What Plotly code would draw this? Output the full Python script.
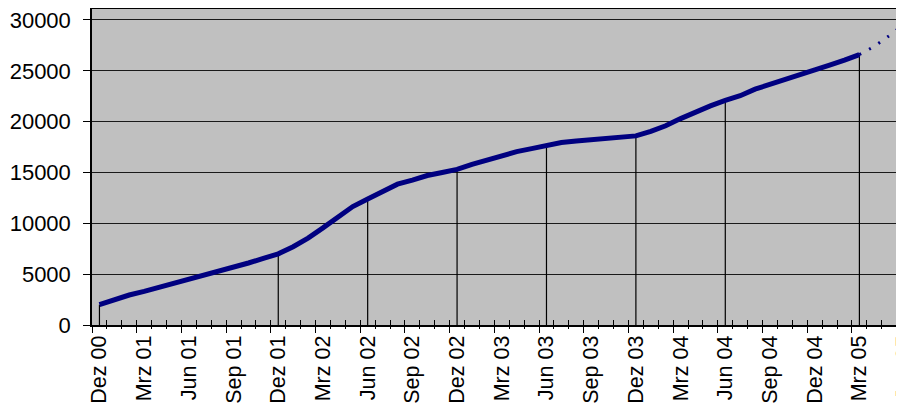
import plotly.graph_objects as go

# ---- data -------------------------------------------------------------
month_names = ["Jan", "Feb", "Mrz", "Apr", "Mai", "Jun", "Jul", "Aug", "Sep", "Okt", "Nov", "Dez"]
months = [f"{month_names[(11 + i) % 12]} {((2000 * 12 + 11 + i) // 12) % 100:02d}" for i in range(55)]

tick_labels = ["Dez 00", "Mrz 01", "Jun 01", "Sep 01", "Dez 01", "Mrz 02", "Jun 02", "Sep 02",
               "Dez 02", "Mrz 03", "Jun 03", "Sep 03", "Dez 03", "Mrz 04", "Jun 04", "Sep 04",
               "Dez 04", "Mrz 05", "Jun 05"]

values = [2000, 2500, 2950, 3300, 3700, 4100, 4500, 4900, 5300, 5600, 6100, 6550, 7000,
          7700, 8550, 9550, 10650, 11650, 12400, 13150, 13850, 14250, 14700, 15000, 15300,
          15800, 16250, 16700, 17050, 17350, 17650, 17950, 18100, 18200, 18300, 18450, 18600,
          19050, 19600, 20300, 20950, 21550, 22100, 22550, 23200, 23650, 24100, 24600, 25050,
          25550, 26050, 26600]

forecast_months = ["Mrz 05", "Apr 05", "Mai 05", "Jun 05"]
forecast_values = [26600, 27400, 28450, 29600]

drop_labels = ["Dez 00", "Dez 01", "Jun 02", "Dez 02", "Jun 03", "Dez 03", "Jun 04", "Mrz 05"]

# ---- figure -----------------------------------------------------------
actual_months = months[:len(values)]
value_of = dict(zip(actual_months, values))

drop_x, drop_y = [], []
for d in drop_labels:
    drop_x += [d, d, None]
    drop_y += [0, value_of[d], None]

FONT = "Liberation Sans, Arial, sans-serif"
NAVY = "#000080"
XR = [-0.5, 54.53]

fig = go.Figure()
fig.add_trace(go.Scatter(x=drop_x, y=drop_y, mode="lines",
                         line=dict(color="black", width=1.2), hoverinfo="skip"))
fig.add_trace(go.Scatter(x=actual_months, y=values, mode="lines",
                         line=dict(color=NAVY, width=5)))
fig.add_trace(go.Scatter(x=forecast_months, y=forecast_values, mode="lines",
                         line=dict(color=NAVY, width=3, dash="2px,9px")))
# helper (empty) traces so the overlay tick axes are rendered
fig.add_trace(go.Scatter(x=[None], y=[None], xaxis="x2", yaxis="y", hoverinfo="skip"))
fig.add_trace(go.Scatter(x=[None], y=[None], xaxis="x3", yaxis="y", hoverinfo="skip"))

fig.update_layout(
    width=904, height=405,
    margin=dict(l=84, r=0, t=1, b=88, autoexpand=False),
    paper_bgcolor="white",
    plot_bgcolor="#C0C0C0",
    showlegend=False,
    font=dict(family=FONT, color="black"),
    xaxis=dict(
        type="category", categoryorder="array", categoryarray=months,
        range=XR, tickmode="array", tickvals=tick_labels, ticktext=tick_labels,
        tickangle=-90, ticks="", showgrid=False, automargin=False,
        showline=True, linecolor="black", linewidth=2, mirror=True,
        tickfont=dict(size=21.5, family=FONT, color="black"),
        ticklabeloverflow="allow",
    ),
    xaxis2=dict(
        overlaying="x", anchor="y", range=XR, showticklabels=False, showgrid=False,
        zeroline=False, showline=False, tickmode="linear", tick0=-0.5, dtick=3,
        ticks="outside", ticklen=7, tickcolor="black", tickwidth=1, automargin=False,
        minor=dict(ticks="outside", ticklen=3, tick0=-0.5, dtick=1, tickcolor="black", tickwidth=1),
    ),
    xaxis3=dict(
        overlaying="x", anchor="y", range=XR, showticklabels=False, showgrid=False,
        zeroline=False, showline=False, tickmode="linear", tick0=-0.5, dtick=1,
        ticks="inside", ticklen=5, tickcolor="black", tickwidth=1, automargin=False,
    ),
    yaxis=dict(
        range=[0, 31080], tickmode="linear", tick0=0, dtick=5000, tickformat="d",
        ticks="outside", ticklen=7, tickcolor="black", automargin=False,
        showgrid=True, gridcolor="#1a1a1a", gridwidth=1, zeroline=False,
        showline=True, linecolor="black", linewidth=1.5,
        tickfont=dict(size=22, family=FONT, color="black"),
        ticklabelstandoff=8, ticklabeloverflow="allow",
    ),
)

fig.write_html("out.html")
